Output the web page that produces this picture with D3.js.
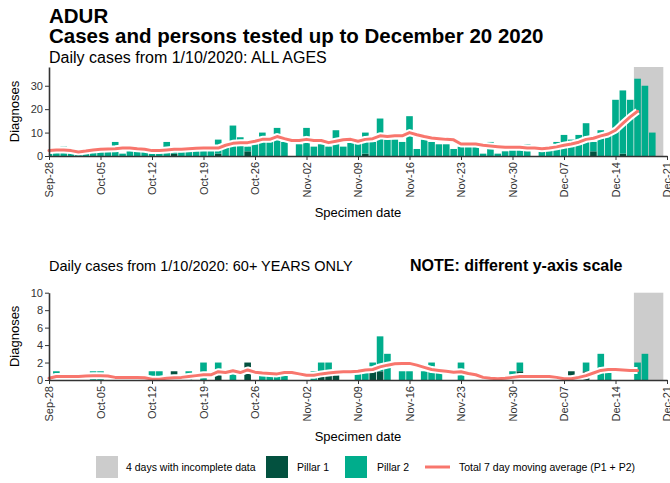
<!DOCTYPE html>
<html><head><meta charset="utf-8">
<script src="https://cdn.jsdelivr.net/npm/d3@7"></script>
<style>
body{margin:0;background:#fff}
svg{display:block;font-family:"Liberation Sans",Arial,sans-serif}
</style>
</head><body><svg id="c" width="670" height="483"></svg>
<script>
// ---------- DATA ----------
const firstDay = "2020-09-28";
const lastAxisDay = "2020-12-21";
const incompleteFrom = "2020-12-17";
const incompleteTo = "2020-12-20";
const tickLabels = ["Sep-28","Oct-05","Oct-12","Oct-19","Oct-26","Nov-02","Nov-09","Nov-16","Nov-23","Nov-30","Dec-07","Dec-14","Dec-21"];

// All ages: daily Pillar 1 / Pillar 2 (Sep-28 .. Dec-20)
const allP1 = [0,0,0,0,0,0,0,0,0,0, 0,0,0,0,0,0,0,1,0,0, 0,0,0,1,0,0,0,2,0,0,
               0,0,0,0,0,0,0,0,0,0, 0,0,0,1,0,0,0,0,0,0, 0,0,0,0,0,0,0,0,0,0,
               0,0,0,0,0,0,0,0,0,0, 0,0,0,0,2,0,0,0,1,0, 0,0,0,0];
const allP2 = [1,2,4,2,1,2,2,4,2,6, 1,3,2,2,1,2,6,1,2,3, 3,3,3,6,4,13,8,2,5,10,
               6,12,6,0,5,12,4,5,4,11, 4,6,6,9,6,16,7,7,6,17, 3,7,6,5,5,3,4,4,4,1,
               6,1,2,5,5,5,0,3,3,6, 9,7,9,14,4,11,10,24,27,24, 33,30,10,0];
// All ages: 7 day moving average (Sep-28 .. Dec-17)
const allAvg = [2.3,2.6,2.6,2.3,1.7,2.1,2.6,2.9,3.0,3.1, 3.4,3.4,3.1,2.9,2.3,2.3,2.6,2.9,2.9,3.1,
                3.3,3.4,3.4,3.4,4.6,5.4,5.7,5.7,6.3,7.1, 7.1,8.3,7.4,6.6,6.6,7.1,6.6,6.6,5.7,6.3,
                6.9,7.1,6.3,7.1,7.4,8.6,8.3,8.6,8.6,10.0, 9.1,8.3,7.7,7.4,7.1,6.9,5.1,5.1,5.1,4.6,
                4.3,4.0,3.7,3.7,3.7,3.4,3.4,3.1,3.4,3.9, 4.6,5.1,5.9,7.1,7.6,8.6,9.4,11.0,13.9,16.7,
                19.1];

// 60+ years: daily Pillar 1 / Pillar 2
const oldP1 = [0,0,0,0,0,0,0,0,0,0, 0,0,0,0,0,0,0,1,0,0, 0,0,0,1,0,0,0,2,0,0,
               0,0,0,0,0,0,0,1,1,1, 0,0,0,0,1,1,0,0,0,0, 0,0,0,0,0,0,0,0,0,0,
               0,0,0,0,1,0,0,0,0,0, 0,1,0,1,0,0,0,0,0,0, 0,0,0,0];
const oldP2 = [0,1,0,0,0,0,1,1,0,0, 0,0,0,0,1,1,0,0,0,1, 0,2,0,1,0,1,0,0,0,1,
               1,1,1,0,0,0,1,1,1,0, 0,0,1,1,1,4,3,0,1,1, 0,1,2,1,0,0,2,0,0,0,
               0,0,0,1,1,0,0,0,0,0, 0,0,0,1,0,3,1,0,0,0, 2,3,0,0];
const oldAvg = [0.2,0.4,0.4,0.4,0.4,0.45,0.5,0.5,0.45,0.3, 0.3,0.3,0.3,0.25,0.1,0.1,0.2,0.25,0.3,0.4,
                0.5,0.6,0.6,0.95,0.85,1.05,0.85,1.15,0.9,0.8, 0.75,0.7,0.85,0.85,0.7,0.55,0.55,0.7,0.8,0.9,
                0.95,0.95,1.0,1.15,1.2,1.5,1.7,1.85,1.9,1.9, 1.7,1.45,1.2,1.1,1.0,0.9,0.95,0.75,0.6,0.3,
                0.2,0.15,0.2,0.3,0.4,0.4,0.4,0.4,0.4,0.3, 0.15,0.15,0.3,0.5,0.8,1.1,1.2,1.2,1.15,1.1,
                1.1];

const topTicks = [0,10,20,30];
const botTicks = [0,2,4,6,8,10];

// ---------- STYLE ----------
const C_P1 = "#03513f", C_P2 = "#00ad8c", C_AVG = "#f8766d", C_INC = "#cccccc";

const svg = d3.select("#c");
const parse = d3.utcParse("%Y-%m-%d");
const d0 = parse(firstDay), dEnd = parse(lastAxisDay);
const days = d3.utcDay.range(d0, parse("2020-12-21"));
const tickDates = d3.utcDay.range(d0, d3.utcDay.offset(dEnd, 1), 7);

const x = d3.scaleUtc().domain([d0, dEnd]).range([49, 667]);
const dayW = x(d3.utcDay.offset(d0, 1)) - x(d0);
const bw = dayW * 0.9;

svg.append("defs").append("clipPath").attr("id","clipx")
  .append("rect").attr("x",49).attr("y",0).attr("width",625).attr("height",483);

function panel(p1, p2, avg, yMax, yTop, yBottom, ticks) {
  const y = d3.scaleLinear().domain([0, yMax]).range([yBottom, yTop]);
  const g = svg.append("g");
  g.append("rect")
    .attr("x", x(parse(incompleteFrom)) - dayW/2)
    .attr("width", x(parse(incompleteTo)) - x(parse(incompleteFrom)) + dayW)
    .attr("y", y(yMax)).attr("height", y(0) - y(yMax))
    .attr("fill", C_INC);
  const bars = g.append("g").attr("clip-path","url(#clipx)");
  const rows = days.map((d,i)=>({d, p1:p1[i], p2:p2[i]}));
  bars.selectAll(".b1").data(rows.filter(r=>r.p1>0)).join("rect")
    .attr("x", r=>x(r.d)-bw/2).attr("width", bw)
    .attr("y", r=>y(r.p1)).attr("height", r=>y(0)-y(r.p1)).attr("fill", C_P1);
  bars.selectAll(".b2").data(rows.filter(r=>r.p2>0)).join("rect")
    .attr("x", r=>x(r.d)-bw/2).attr("width", bw)
    .attr("y", r=>y(r.p1+r.p2)).attr("height", r=>y(r.p1)-y(r.p1+r.p2)).attr("fill", C_P2);
  const line = d3.line().x((v,i)=>x(days[i])).y(v=>y(v)).curve(d3.curveLinear);
  g.append("path").attr("d", line(avg)).attr("fill","none")
    .attr("stroke","#fff").attr("stroke-width",7).attr("stroke-linejoin","round");
  g.append("path").attr("d", line(avg)).attr("fill","none")
    .attr("stroke",C_AVG).attr("stroke-width",3).attr("stroke-linejoin","round").attr("stroke-linecap","round");
  const ax = g.append("g").attr("transform",`translate(0,${y(0)})`)
    .call(d3.axisBottom(x).tickValues(tickDates).tickFormat((d,i)=>tickLabels[i]).tickSize(4).tickSizeOuter(0));
  ax.select(".domain").attr("stroke","#333").attr("stroke-width",1.6);
  ax.selectAll(".tick line").attr("stroke","#333").attr("stroke-width",1);
  ax.selectAll("text").attr("transform","rotate(-90)").attr("text-anchor","end")
    .attr("x",-6).attr("y",0).attr("dy","0.35em").attr("font-size",11).attr("fill","#333");
  const ay = g.append("g").attr("transform","translate(49,0)")
    .call(d3.axisLeft(y).tickValues(ticks).tickSize(4).tickSizeOuter(0));
  ay.select(".domain").attr("stroke","#333").attr("stroke-width",1.6);
  ay.selectAll(".tick line").attr("stroke","#333");
  ay.selectAll("text").attr("font-size",11).attr("fill","#333").attr("x",-6);
  svg.selectAll(".tick text").attr("font-family",null);
  g.append("text").attr("transform",`translate(19,${(yTop+yBottom)/2}) rotate(-90)`)
    .attr("text-anchor","middle").attr("font-size",13).text("Diagnoses");
  g.append("text").attr("x",358).attr("y",yBottom+61).attr("text-anchor","middle")
    .attr("font-size",13).text("Specimen date");
}

// titles
svg.append("text").attr("x",49).attr("y",23).attr("font-size",20.5).attr("font-weight","bold").text("ADUR");
svg.append("text").attr("x",49).attr("y",43).attr("font-size",20.5).attr("font-weight","bold")
  .text("Cases and persons tested up to December 20 2020");
svg.append("text").attr("x",49).attr("y",63).attr("font-size",16).text("Daily cases from 1/10/2020: ALL AGES");
svg.append("text").attr("x",49).attr("y",271).attr("font-size",14.5).text("Daily cases from 1/10/2020: 60+ YEARS ONLY");
svg.append("text").attr("x",410).attr("y",271).attr("font-size",16).attr("font-weight","bold").text("NOTE: different y-axis scale");

panel(allP1, allP2, allAvg, 38, 67, 156, topTicks);
panel(oldP1, oldP2, oldAvg, 10, 292.7, 380, botTicks);

// legend
const lg = svg.append("g").attr("font-size",10.5);
lg.append("rect").attr("x",96).attr("y",456).attr("width",22).attr("height",22).attr("fill",C_INC);
lg.append("text").attr("x",126).attr("y",471).text("4 days with incomplete data");
lg.append("rect").attr("x",266).attr("y",456).attr("width",22).attr("height",22).attr("fill",C_P1);
lg.append("text").attr("x",297).attr("y",471).text("Pillar 1");
lg.append("rect").attr("x",345).attr("y",456).attr("width",22).attr("height",22).attr("fill",C_P2);
lg.append("text").attr("x",377).attr("y",471).text("Pillar 2");
lg.append("line").attr("x1",425).attr("x2",450).attr("y1",467).attr("y2",467).attr("stroke",C_AVG).attr("stroke-width",3);
lg.append("text").attr("x",459).attr("y",471).text("Total 7 day moving average (P1 + P2)");
</script>
</body></html>
